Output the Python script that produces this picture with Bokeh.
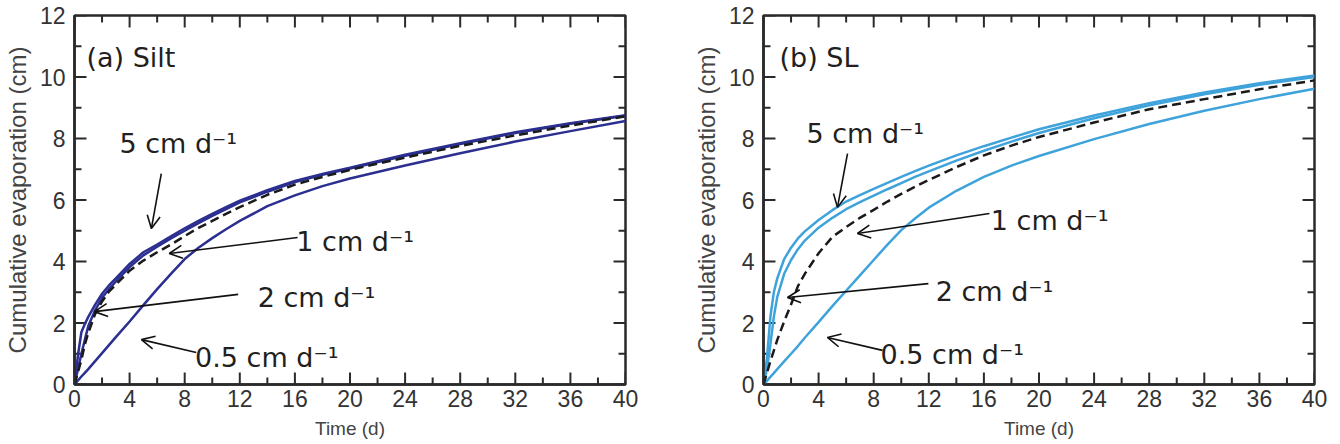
from bokeh.plotting import figure
from bokeh.models import Range1d, SingleIntervalTicker, Arrow, OpenHead, ColumnDataSource
from bokeh.layouts import row
from bokeh.embed import file_html
from bokeh.resources import INLINE
from bokeh.core.properties import value

# ---------------- data ----------------
t = [0, 0.25, 0.5, 0.75, 1, 1.5, 2, 2.5, 3, 4, 5, 6, 7, 8, 9, 10, 11, 12,
     14, 16, 18, 20, 24, 28, 32, 36, 40]

# (a) Silt
silt_5 = [0, 0.95, 1.7, 1.97, 2.2, 2.6, 2.95, 3.22, 3.45, 3.92, 4.3, 4.55, 4.82, 5.08, 5.32, 5.55, 5.77, 5.98,
          6.32, 6.62, 6.85, 7.05, 7.47, 7.85, 8.2, 8.5, 8.76]
silt_2 = [0, 0.5, 1.0, 1.45, 1.9, 2.42, 2.82, 3.1, 3.35, 3.82, 4.2, 4.48, 4.75, 5.0, 5.25, 5.48, 5.7, 5.92,
          6.27, 6.58, 6.82, 7.02, 7.44, 7.82, 8.18, 8.48, 8.74]
silt_1 = [0, 0.4, 0.8, 1.3, 1.68, 2.3, 2.7, 3.02, 3.25, 3.7, 4.03, 4.3, 4.55, 4.83, 5.09, 5.32, 5.55, 5.77,
          6.17, 6.5, 6.75, 6.98, 7.38, 7.76, 8.1, 8.42, 8.72]
silt_05 = [0, 0.13, 0.26, 0.38, 0.5, 0.76, 1.02, 1.28, 1.54, 2.05, 2.58, 3.1, 3.6, 4.08, 4.45, 4.76, 5.05, 5.32,
           5.8, 6.15, 6.45, 6.7, 7.12, 7.52, 7.9, 8.24, 8.57]

# (b) SL
sl_5 = [0, 0.85, 2.2, 3.0, 3.45, 4.08, 4.45, 4.75, 4.98, 5.35, 5.67, 5.95, 6.16, 6.36, 6.56, 6.75, 6.94, 7.12,
        7.45, 7.75, 8.03, 8.3, 8.75, 9.15, 9.5, 9.8, 10.05]
sl_2 = [0, 0.5, 1.3, 2.2, 2.85, 3.6, 4.05, 4.4, 4.68, 5.1, 5.42, 5.7, 5.93, 6.14, 6.35, 6.55, 6.75, 6.93,
        7.28, 7.6, 7.9, 8.18, 8.66, 9.08, 9.44, 9.75, 10.0]
sl_1 = [0, 0.38, 0.75, 1.1, 1.45, 2.05, 2.6, 3.2, 3.6, 4.27, 4.8, 5.12, 5.42, 5.68, 5.95, 6.2, 6.43, 6.65,
        7.07, 7.45, 7.77, 8.05, 8.52, 8.95, 9.28, 9.6, 9.89]
sl_05 = [0, 0.12, 0.25, 0.37, 0.5, 0.75, 1.0, 1.25, 1.52, 2.03, 2.55, 3.05, 3.55, 4.05, 4.55, 5.02, 5.4, 5.75,
         6.3, 6.75, 7.12, 7.43, 7.98, 8.47, 8.9, 9.28, 9.62]

x_label = "Time (d)"
y_label = "Cumulative evaporation (cm)"

# axis tick values (inward ticks on all four sides)
x_major_ticks = [0, 4, 8, 12, 16, 20, 24, 28, 32, 36, 40]
x_minor_ticks = [2, 6, 10, 14, 18, 22, 26, 30, 34, 38]
y_major_ticks = [0, 2, 4, 6, 8, 10, 12]
y_minor_ticks = [1, 3, 5, 7, 9, 11]
X_MIN, X_MAX, Y_MIN, Y_MAX = 0.0, 40.0, 0.0, 12.0

# annotations: text, anchor (data coords)
silt_texts = ["(a) Silt", "5 cm d\u207b\u00b9", "1 cm d\u207b\u00b9", "2 cm d\u207b\u00b9", "0.5 cm d\u207b\u00b9"]
silt_text_x = [0.87, 3.26, 16.1, 13.3, 8.75]
silt_text_y = [10.63, 7.84, 4.65, 2.83, 0.88]
silt_arrow_x0 = [6.30, 16.2, 11.88, 8.84]
silt_arrow_y0 = [6.86, 4.78, 2.93, 1.04]
silt_arrow_x1 = [5.58, 6.88, 1.45, 4.86]
silt_arrow_y1 = [5.07, 4.26, 2.37, 1.46]

sl_texts = ["(b) SL", "5 cm d\u207b\u00b9", "1 cm d\u207b\u00b9", "2 cm d\u207b\u00b9", "0.5 cm d\u207b\u00b9"]
sl_text_x = [1.16, 3.12, 16.5, 12.5, 8.5]
sl_text_y = [10.63, 8.16, 5.33, 3.02, 0.98]
sl_arrow_x0 = [6.1, 16.4, 11.97, 8.64]
sl_arrow_y0 = [7.51, 5.56, 3.28, 1.11]
sl_arrow_x1 = [5.37, 6.82, 1.74, 4.64]
sl_arrow_y1 = [5.76, 4.91, 2.83, 1.53]

AX = "#2a2a2a"
TICK_FONT = "Liberation Sans"
PX_PER_X = 13.8    # screen px per day
PX_PER_Y = 30.75   # screen px per cm


def style_axis(ax, title_size):
    ax.axis_line_color = AX
    ax.axis_line_width = 2.5
    ax.major_tick_line_color = None
    ax.minor_tick_line_color = None
    ax.major_tick_in = 0
    ax.major_tick_out = 0
    ax.minor_tick_in = 0
    ax.minor_tick_out = 0
    ax.major_label_text_font = TICK_FONT
    ax.major_label_text_font_size = "23px"
    ax.major_label_text_color = "#333333"
    ax.axis_label_text_font = TICK_FONT
    ax.axis_label_text_font_size = title_size
    ax.axis_label_text_font_style = "normal"
    ax.axis_label_text_color = "#444444"


def add_ticks(p, ticks_x, ticks_y, length_px):
    ly = length_px / PX_PER_Y
    lx = length_px / PX_PER_X
    n, m = len(ticks_x), len(ticks_y)
    p.segment(x0=ticks_x, y0=[Y_MIN] * n, x1=ticks_x, y1=[Y_MIN + ly] * n, line_color=AX, line_width=2)
    p.segment(x0=ticks_x, y0=[Y_MAX] * n, x1=ticks_x, y1=[Y_MAX - ly] * n, line_color=AX, line_width=2)
    p.segment(x0=[X_MIN] * m, y0=ticks_y, x1=[X_MIN + lx] * m, y1=ticks_y, line_color=AX, line_width=2)
    p.segment(x0=[X_MAX] * m, y0=ticks_y, x1=[X_MAX - lx] * m, y1=ticks_y, line_color=AX, line_width=2)


def make_panel(series, color, texts, tx, ty, ax0, ay0, ax1, ay1, bl, br):
    p = figure(width=670, height=444, output_backend="svg", toolbar_location=None,
               x_range=Range1d(X_MIN, X_MAX), y_range=Range1d(Y_MIN, Y_MAX),
               min_border_left=bl, min_border_right=br, min_border_top=15, min_border_bottom=60,
               x_axis_label=x_label, y_axis_label=y_label)
    p.grid.grid_line_color = None
    p.outline_line_color = AX
    p.outline_line_width = 2.5

    p.xaxis.ticker = SingleIntervalTicker(interval=4, num_minor_ticks=2)
    p.yaxis.ticker = SingleIntervalTicker(interval=2, num_minor_ticks=2)
    for ax in p.xaxis:
        style_axis(ax, "19px")
        ax.major_label_standoff = 5
        ax.axis_label_standoff = 8
    for ax in p.yaxis:
        style_axis(ax, "24px")
        ax.major_label_standoff = 9
        ax.axis_label_standoff = 6

    add_ticks(p, x_major_ticks, y_major_ticks, 12)
    add_ticks(p, x_minor_ticks, y_minor_ticks, 7)

    s5, s2, s1, s05 = series
    p.line(t, s05, line_color=color, line_width=2.5)
    p.line(t, s2, line_color=color, line_width=2.5)
    p.line(t, s5, line_color=color, line_width=2.5)
    p.line(t, s1, line_color="#1a1a1a", line_width=2.5, line_dash="9 5")

    p.text(x=tx, y=ty, text=texts, text_font=value("DejaVu Sans"), text_font_size="27px",
           text_baseline="alphabetic", text_align="left", text_color="#231f20")

    src = ColumnDataSource(dict(x0=ax0, y0=ay0, x1=ax1, y1=ay1))
    p.add_layout(Arrow(end=OpenHead(size=13, line_width=1.6, line_color="#111111"),
                       x_start="x0", y_start="y0", x_end="x1", y_end="y1", source=src,
                       line_width=1.6, line_color="#111111"))
    return p


p1 = make_panel((silt_5, silt_2, silt_1, silt_05), "#2b2f90", silt_texts, silt_text_x, silt_text_y,
                silt_arrow_x0, silt_arrow_y0, silt_arrow_x1, silt_arrow_y1, 73, 45)
p2 = make_panel((sl_5, sl_2, sl_1, sl_05), "#3fa3db", sl_texts, sl_text_x, sl_text_y,
                sl_arrow_x0, sl_arrow_y0, sl_arrow_x1, sl_arrow_y1, 93, 26)

layout = row(p1, p2)
open("out.html", "w").write(file_html(layout, INLINE))
